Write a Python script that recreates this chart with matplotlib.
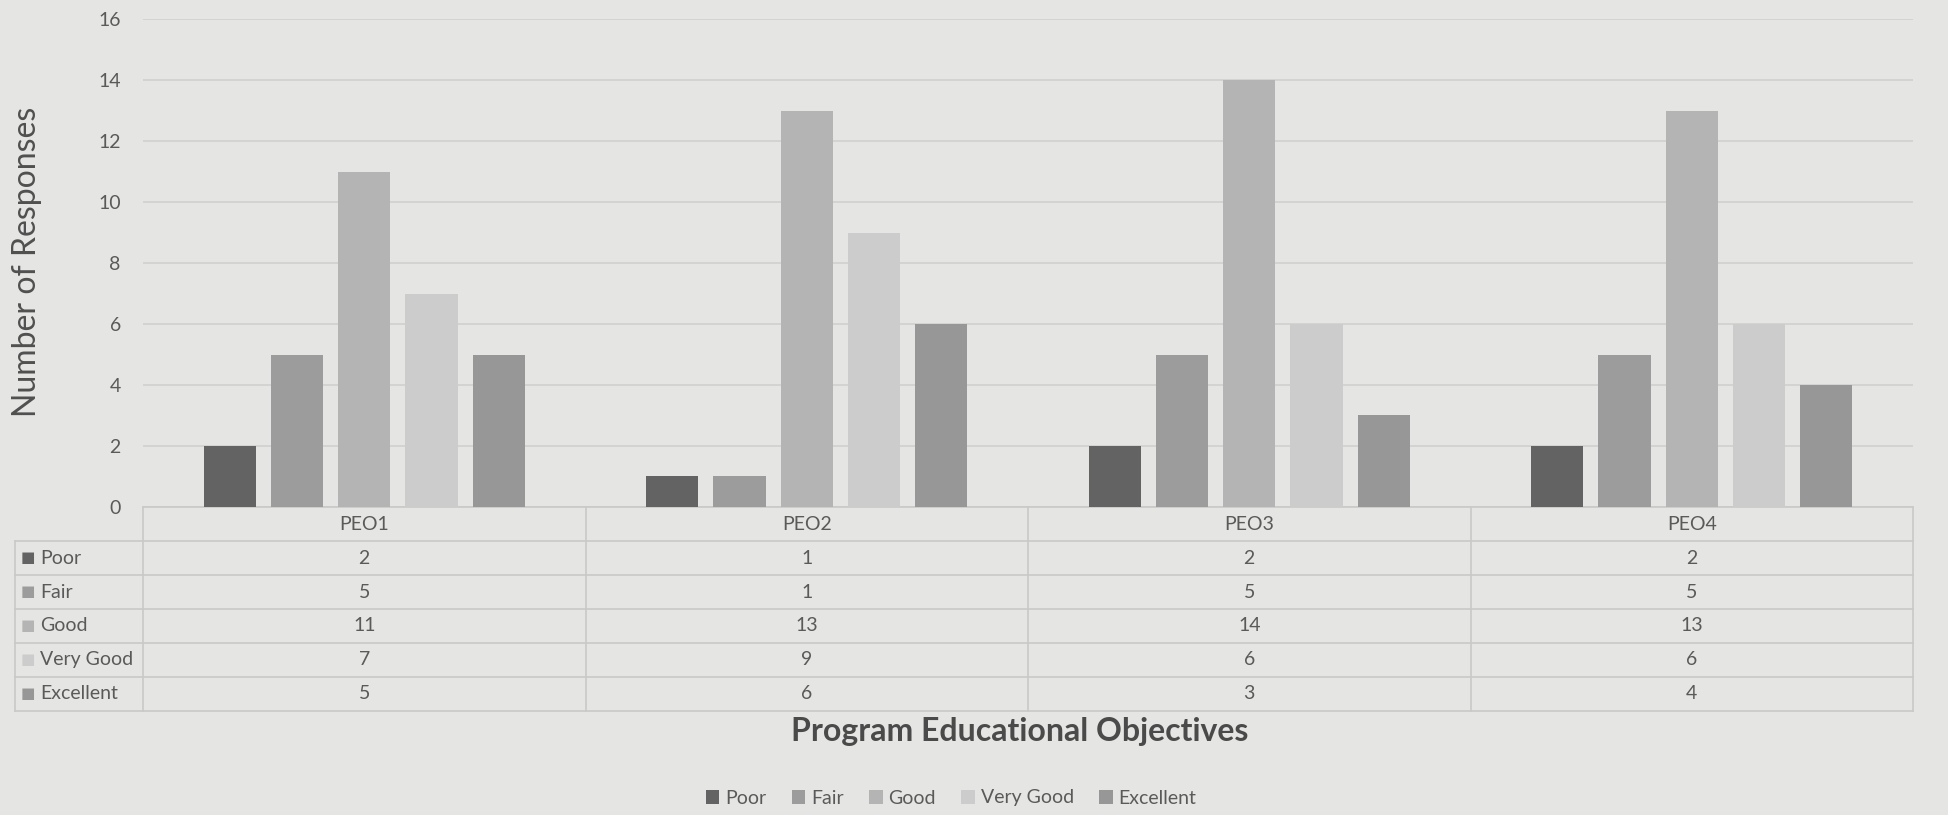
import matplotlib
matplotlib.use("Agg")
import matplotlib.pyplot as plt
import matplotlib.transforms as mtransforms
import numpy as np

categories = ["PEO1", "PEO2", "PEO3", "PEO4"]
series = ["Poor", "Fair", "Good", "Very Good", "Excellent"]
poor = [2, 1, 2, 2]
fair = [5, 1, 5, 5]
good = [11, 13, 14, 13]
very_good = [7, 9, 6, 6]
excellent = [5, 6, 3, 4]
values = [poor, fair, good, very_good, excellent]
yticks = [0, 2, 4, 6, 8, 10, 12, 14, 16]

colors = ["#636363", "#9c9c9c", "#b4b4b4", "#cccccc", "#979797"]
bg = "#e5e5e3"
text_c = "#5a5a5a"
grid_c = "#d0d0ce"

plt.rcParams['font.family'] = ['Lato', 'DejaVu Sans']

W, H = 1948, 815
fig = plt.figure(figsize=(W / 100, H / 100), dpi=100, facecolor=bg)
ax_l, ax_r, ax_t, ax_b = 143, 1913, 19, 507
ax = fig.add_axes([ax_l / W, 1 - ax_b / H, (ax_r - ax_l) / W, (ax_b - ax_t) / H])
ax.set_facecolor(bg)

n = len(series)
x = np.arange(len(categories))
bw = 0.118
step = 0.152
bars = []
for i, (name, vals) in enumerate(zip(series, values)):
    b = ax.bar(x + (i - (n - 1) / 2) * step, vals, width=bw, color=colors[i], label=name, zorder=3)
    bars.append(b)

ax.set_xlim(-0.5, len(categories) - 0.5)
ax.set_ylim(0, 16)
ax.set_yticks(yticks)
ax.set_xticks([])
ax.tick_params(axis='y', length=0, pad=16, labelsize=14, labelcolor=text_c)
ax.yaxis.grid(True, color=grid_c, linewidth=1.2, zorder=0)
for s in ax.spines.values():
    s.set_visible(False)

# Data table
trans = mtransforms.blended_transform_factory(ax.transData, ax.transAxes)
ah = ax_b - ax_t
row_h = 34 / ah
n_rows = n + 1
tab_bottom = -row_h * n_rows
label_left = (15 - ax_l) / (ax_r - ax_l)
line_c = "#c9c9c7"

ax.plot([-0.5, len(categories) - 0.5], [0, 0], transform=trans, color=line_c, lw=1.2, clip_on=False)
for r in range(1, n_rows + 1):
    yy = -row_h * r
    ax.plot([label_left, 1], [yy, yy], transform=ax.transAxes, color=line_c, lw=1.2, clip_on=False)
for xb in np.arange(len(categories) + 1) - 0.5:
    ax.plot([xb, xb], [0, tab_bottom], transform=trans, color=line_c, lw=1.2, clip_on=False)
ax.plot([label_left, label_left], [-row_h, tab_bottom], transform=ax.transAxes, color=line_c, lw=1.2, clip_on=False)

for j, c in enumerate(categories):
    ax.text(j, -row_h * 0.5, c, transform=trans, ha='center', va='center', fontsize=14, color=text_c)
sq_x = (28 - ax_l) / (ax_r - ax_l)
lab_x = (40 - ax_l) / (ax_r - ax_l)
for i, (name, vals) in enumerate(zip(series, values)):
    yc = -row_h * (i + 1.5)
    ax.text(sq_x, yc, "■", transform=ax.transAxes, ha='center', va='center', fontsize=11, color=colors[i])
    ax.text(lab_x, yc, name, transform=ax.transAxes, ha='left', va='center', fontsize=14, color=text_c)
    for j, v in enumerate(vals):
        ax.text(j, yc, str(v), transform=trans, ha='center', va='center', fontsize=14, color=text_c)

fig.text(27 / W, 1 - 262 / H, "Number of Responses", rotation=90, ha='center', va='center',
         fontsize=23, color="#505050")
fig.text(1020 / W, 1 - 731 / H, "Program Educational Objectives", ha='center', va='center',
         fontsize=23, fontweight='bold', color="#4a4a4a")

fig.legend(handles=bars, labels=series, loc='center', bbox_to_anchor=(951 / W, 1 - 798 / H), ncol=5,
           frameon=False, fontsize=14, handlelength=0.7, handleheight=0.7, handletextpad=0.3,
           columnspacing=1.3, labelcolor=text_c)

fig.savefig("out.png", dpi=100, facecolor=bg)
